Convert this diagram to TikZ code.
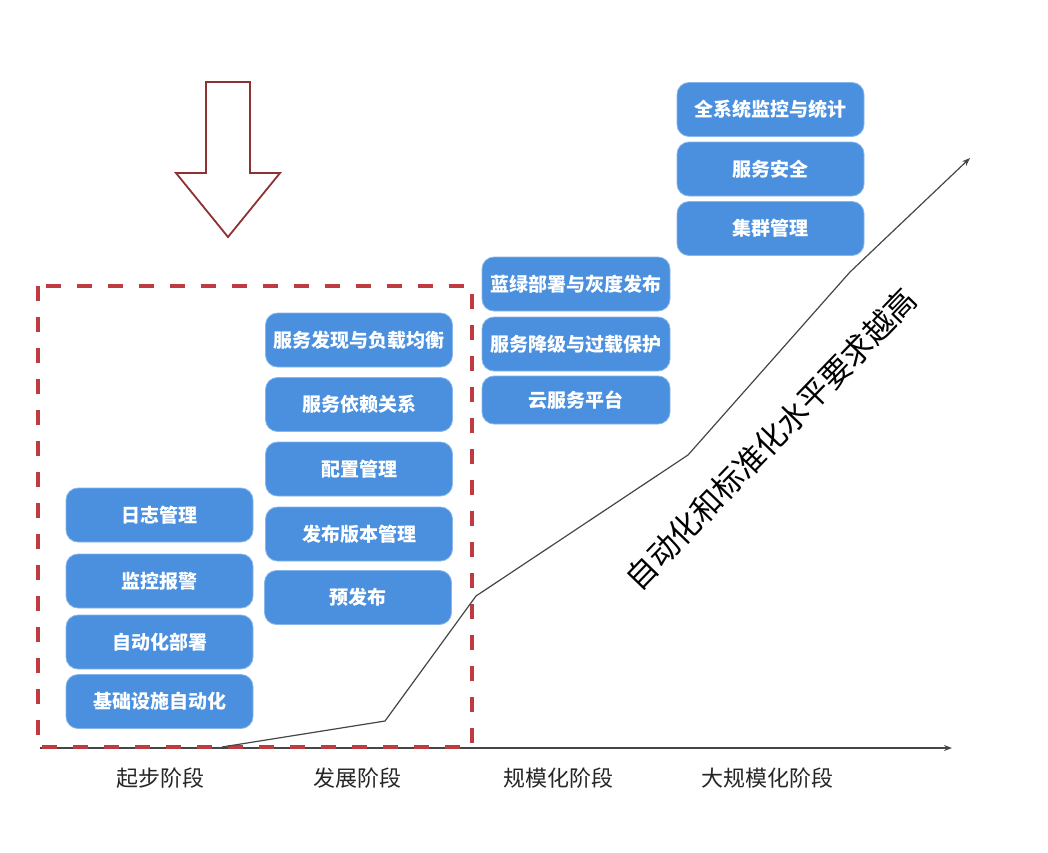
\documentclass[tikz,border=0pt]{standalone}
\usepackage{fontspec}
\newfontfamily\cjk{Noto Sans CJK SC}
\usetikzlibrary{arrows.meta}
\definecolor{boxblue}{RGB}{74,144,222}
\definecolor{boxedge}{RGB}{135,182,234}
\definecolor{dashred}{RGB}{192,58,66}
\definecolor{arrowred}{RGB}{140,50,50}
\definecolor{axisgray}{RGB}{70,70,70}
\tikzset{
  stagebox/.style={rounded corners=12pt, fill=boxblue, draw=boxedge, line width=0.8pt,
    minimum width=187pt, minimum height=54pt, text=white, inner sep=0pt,
    font=\cjk\bfseries\fontsize{19}{22}\selectfont},
  phaselabel/.style={font=\cjk\fontsize{22}{26}\selectfont, text=black!85},
  trendline/.style={draw=axisgray, line width=1.2pt, -{Stealth[length=8pt,width=6pt]}},
  axisline/.style={draw=axisgray, line width=1.5pt, -{Stealth[length=8pt,width=6pt]}},
  dashbox/.style={draw=dashred, line width=3.2pt, dash pattern=on 15pt off 16pt},
  bigarrow/.style={draw=arrowred, line width=1.8pt, fill=white, line join=miter},
}
\begin{document}
\begin{tikzpicture}[x=1pt,y=-1pt]
\useasboundingbox (0,0) rectangle (1048,852);
\fill[white] (0,0) rectangle (1048,852);

% big hollow arrow
\draw[bigarrow] (206,82) -- (250,82) -- (250,173) -- (280,173) -- (228,237) -- (176,173) -- (206,173) -- cycle;

% axis
\coordinate (a0) at (40,748);
\coordinate (a1) at (952,748);
\draw[axisline] (a0) -- (a1);

% dashed frame
\draw[dashbox] (38,286) rectangle (472,747);

% trend line
\coordinate (c0) at (222,747);
\coordinate (c1) at (385,721);
\coordinate (c2) at (476,596);
\coordinate (c3) at (688,455);
\coordinate (c4) at (850,272);
\coordinate (c5) at (970,158);
\draw[trendline] (c0) -- (c1) -- (c2) -- (c3) -- (c4) -- (c5);

% column 1
\node[stagebox] (s11) at (159.5,515) {日志管理};
\node[stagebox] (s12) at (159.5,581) {监控报警};
\node[stagebox] (s13) at (159.5,642) {自动化部署};
\node[stagebox] (s14) at (159.5,701.5) {基础设施自动化};

% column 2
\node[stagebox] (s21) at (359,340) {服务发现与负载均衡};
\node[stagebox] (s22) at (359,404.5) {服务依赖关系};
\node[stagebox] (s23) at (359,469) {配置管理};
\node[stagebox] (s24) at (359,534) {发布版本管理};
\node[stagebox] (s25) at (358,597.5) {预发布};

% column 3
\node[stagebox, minimum width=188pt] (s31) at (576,284) {蓝绿部署与灰度发布};
\node[stagebox, minimum width=188pt] (s32) at (576,344) {服务降级与过载保护};
\node[stagebox, minimum width=188pt, minimum height=48pt] (s33) at (576,400) {云服务平台};

% column 4
\node[stagebox] (s41) at (770.5,109.5) {全系统监控与统计};
\node[stagebox] (s42) at (770.5,169) {服务安全};
\node[stagebox] (s43) at (770.5,228.5) {集群管理};

% rotated caption
\node[font=\cjk\fontsize{31}{34}\selectfont, text=black, rotate=46, inner sep=0pt] (cap) at (771,439) {自动化和标准化水平要求越高};

% phase labels
\node[phaselabel] (p1) at (160,778) {起步阶段};
\node[phaselabel] (p2) at (357,778) {发展阶段};
\node[phaselabel] (p3) at (558,778) {规模化阶段};
\node[phaselabel] (p4) at (767,778) {大规模化阶段};
\end{tikzpicture}
\end{document}
